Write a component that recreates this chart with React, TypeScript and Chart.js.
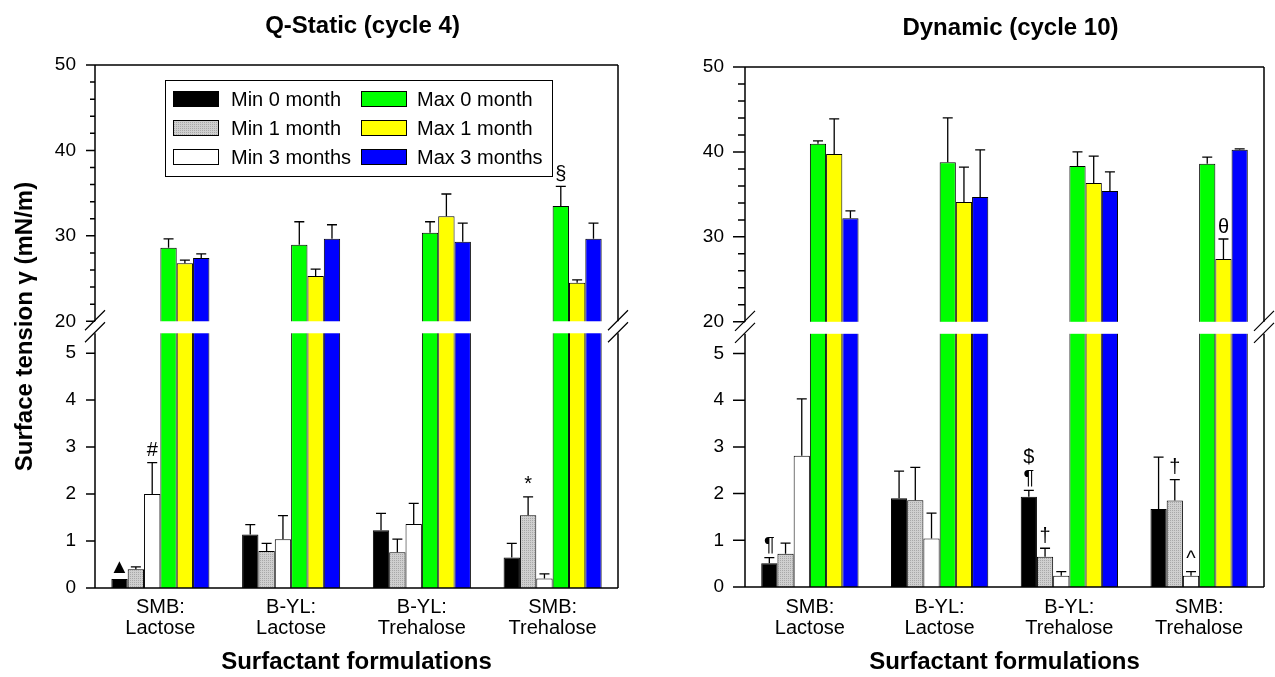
import React, { useEffect, useRef } from 'react';
import { Chart, registerables, LinearScale } from 'chart.js';

Chart.register(...registerables);

// ---------- data ----------
const CATEGORIES = [
  ['SMB:', 'Lactose'],
  ['B-YL:', 'Lactose'],
  ['B-YL:', 'Trehalose'],
  ['SMB:', 'Trehalose'],
];
const SERIES_LABELS = ['Min 0 month', 'Min 1 month', 'Min 3 months', 'Max 0 month', 'Max 1 month', 'Max 3 months'];
const Y_TICKS = [0, 1, 2, 3, 4, 5, 20, 22, 24, 26, 28, 30, 32, 34, 36, 38, 40, 42, 44, 46, 48, 50];
const Y_LABELED = [0, 1, 2, 3, 4, 5, 20, 30, 40, 50];

// Q-Static (cycle 4)
const STATIC_MIN0 = [0.19, 1.14, 1.23, 0.65];
const STATIC_MIN0_ERR = [0, 0.21, 0.36, 0.3];
const STATIC_MIN1 = [0.4, 0.79, 0.76, 1.55];
const STATIC_MIN1_ERR = [0.05, 0.16, 0.28, 0.39];
const STATIC_MIN3 = [2.0, 1.04, 1.36, 0.2];
const STATIC_MIN3_ERR = [0.67, 0.5, 0.44, 0.1];
const STATIC_MAX0 = [28.6, 28.95, 30.35, 33.5];
const STATIC_MAX0_ERR = [1.05, 2.7, 1.3, 2.3];
const STATIC_MAX1 = [26.8, 25.3, 32.3, 24.5];
const STATIC_MAX1_ERR = [0.35, 0.8, 2.6, 0.35];
const STATIC_MAX3 = [27.4, 29.65, 29.3, 29.65];
const STATIC_MAX3_ERR = [0.5, 1.65, 2.2, 1.85];
const STATIC_MARKS: [number, number, string][] = [
  [0, 0, '▲'],
  [2, 0, '#'],
  [1, 3, '*'],
  [3, 3, '§'],
];

// Dynamic (cycle 10)
const DYNAMIC_MIN0 = [0.51, 1.9, 1.93, 1.67];
const DYNAMIC_MIN0_ERR = [0.12, 0.58, 0.14, 1.11];
const DYNAMIC_MIN1 = [0.71, 1.86, 0.65, 1.85];
const DYNAMIC_MIN1_ERR = [0.23, 0.7, 0.18, 0.45];
const DYNAMIC_MIN3 = [2.81, 1.04, 0.24, 0.24];
const DYNAMIC_MIN3_ERR = [1.22, 0.54, 0.09, 0.09];
const DYNAMIC_MAX0 = [40.95, 38.8, 38.35, 38.6];
const DYNAMIC_MAX0_ERR = [0.35, 5.2, 1.65, 0.8];
const DYNAMIC_MAX1 = [39.75, 34.1, 36.35, 27.4];
const DYNAMIC_MAX1_ERR = [4.15, 4.1, 3.15, 2.35];
const DYNAMIC_MAX3 = [32.2, 34.7, 35.4, 40.25];
const DYNAMIC_MAX3_ERR = [0.85, 5.55, 2.25, 0.12];
const DYNAMIC_MARKS: [number, number, string][] = [
  [0, 0, '¶'],
  [0, 2, '$\n¶'],
  [1, 2, '†'],
  [1, 3, '†'],
  [2, 3, '^'],
  [4, 3, 'θ'],
];

// ---------- broken axis scale ----------
const BREAK_LOW = 5.5;
const BREAK_HIGH = 20;
const LOW_FRAC = 0.494;
const HIGH_FRAC = 0.51;
const Y_MAX = 50;
const GAP_PX = 12;

class BrokenLinearScale extends LinearScale {
  static id = 'brokenLinear';
  static defaults = LinearScale.defaults;
  getPixelForValue(value: any) {
    if (value === null || value === undefined || isNaN(value)) return NaN;
    let f: number;
    if (value <= BREAK_LOW) f = (value / BREAK_LOW) * LOW_FRAC;
    else if (value >= BREAK_HIGH) f = HIGH_FRAC + ((value - BREAK_HIGH) / (Y_MAX - BREAK_HIGH)) * (1 - HIGH_FRAC);
    else f = LOW_FRAC + ((value - BREAK_LOW) / (BREAK_HIGH - BREAK_LOW)) * (HIGH_FRAC - LOW_FRAC);
    return this.getPixelForDecimal(f);
  }
  getValueForPixel(pixel: number) {
    const f = this.getDecimalForPixel(pixel);
    if (f <= LOW_FRAC) return (f / LOW_FRAC) * BREAK_LOW;
    if (f >= HIGH_FRAC) return BREAK_HIGH + ((f - HIGH_FRAC) / (1 - HIGH_FRAC)) * (Y_MAX - BREAK_HIGH);
    return BREAK_LOW + ((f - LOW_FRAC) / (HIGH_FRAC - LOW_FRAC)) * (BREAK_HIGH - BREAK_LOW);
  }
}
Chart.register(BrokenLinearScale as any);

const FONT = 'Liberation Sans, Arial, Helvetica, sans-serif';

type Panel = {
  title: string;
  values: number[][];
  errors: number[][];
  marks: [number, number, string][];
  yTitle: boolean;
  padding: { top: number; right: number; bottom: number; left: number };
  yWidth: number;
  xHeight: number;
  majorTick: number;
  minorTick: number;
  tickPad: number;
  catPad: number;
  legend: boolean;
};

const STATIC_PANEL: Panel = {
  title: 'Q-Static (cycle 4)',
  values: [STATIC_MIN0, STATIC_MIN1, STATIC_MIN3, STATIC_MAX0, STATIC_MAX1, STATIC_MAX3],
  errors: [STATIC_MIN0_ERR, STATIC_MIN1_ERR, STATIC_MIN3_ERR, STATIC_MAX0_ERR, STATIC_MAX1_ERR, STATIC_MAX3_ERR],
  marks: STATIC_MARKS,
  yTitle: true,
  padding: { top: 65, right: 22, bottom: 0, left: 0 },
  yWidth: 95,
  xHeight: 89,
  majorTick: 9,
  minorTick: 5,
  tickPad: 10,
  catPad: 9,
  legend: true,
};

const DYNAMIC_PANEL: Panel = {
  title: 'Dynamic (cycle 10)',
  values: [DYNAMIC_MIN0, DYNAMIC_MIN1, DYNAMIC_MIN3, DYNAMIC_MAX0, DYNAMIC_MAX1, DYNAMIC_MAX3],
  errors: [DYNAMIC_MIN0_ERR, DYNAMIC_MIN1_ERR, DYNAMIC_MIN3_ERR, DYNAMIC_MAX0_ERR, DYNAMIC_MAX1_ERR, DYNAMIC_MAX3_ERR],
  marks: DYNAMIC_MARKS,
  yTitle: false,
  padding: { top: 67, right: 11, bottom: 0, left: 0 },
  yWidth: 105,
  xHeight: 90,
  majorTick: 12,
  minorTick: 7,
  tickPad: 9,
  catPad: 10,
  legend: false,
};

function makeGrayPattern(): CanvasPattern | string {
  const pc = document.createElement('canvas');
  pc.width = 2;
  pc.height = 2;
  const c = pc.getContext('2d');
  if (!c) return '#c2c2c2';
  c.fillStyle = '#cfcfcf';
  c.fillRect(0, 0, 2, 2);
  c.fillStyle = '#a8a8a8';
  c.fillRect(0, 0, 1, 1);
  const p = c.createPattern(pc, 'repeat');
  return p || '#c2c2c2';
}

function decorPlugin(panel: Panel) {
  return {
    id: 'decor',
    afterDatasetsDraw(chart: any) {
      const { ctx, chartArea: a } = chart;
      const ys = chart.scales.y;
      const gTop = ys.getPixelForValue(BREAK_HIGH);
      const gBot = gTop + GAP_PX;
      ctx.save();
      ctx.fillStyle = '#ffffff';
      ctx.fillRect(a.left, gTop, a.right - a.left, gBot - gTop);

      // error bars (upper side only)
      ctx.strokeStyle = '#000';
      ctx.lineWidth = 1.3;
      panel.errors.forEach((errs, si) => {
        const meta = chart.getDatasetMeta(si);
        meta.data.forEach((el: any, ci: number) => {
          const err = errs[ci];
          if (!err) return;
          const v = panel.values[si][ci];
          const yTop = ys.getPixelForValue(v + err);
          ctx.beginPath();
          ctx.moveTo(el.x, el.y);
          ctx.lineTo(el.x, yTop);
          ctx.moveTo(el.x - 5, yTop);
          ctx.lineTo(el.x + 5, yTop);
          ctx.stroke();
        });
      });

      // significance marks
      ctx.fillStyle = '#000';
      ctx.font = `20px ${FONT}`;
      ctx.textAlign = 'center';
      ctx.textBaseline = 'bottom';
      panel.marks.forEach(([si, ci, text]) => {
        const el = chart.getDatasetMeta(si).data[ci];
        const v = panel.values[si][ci];
        const err = panel.errors[si][ci] || 0;
        const top = ys.getPixelForValue(v + err);
        const lines = text.split('\n').reverse();
        lines.forEach((ln, k) => ctx.fillText(ln, el.x, top - 2 - k * 21));
      });
      ctx.restore();
    },
    afterDraw(chart: any) {
      const { ctx, chartArea: a } = chart;
      const ys = chart.scales.y;
      const gTop = ys.getPixelForValue(BREAK_HIGH);
      const gBot = gTop + GAP_PX;
      ctx.save();
      ctx.strokeStyle = '#000';
      ctx.lineWidth = 1.5;
      ctx.beginPath();
      // left axis and right frame, broken
      [a.left, a.right].forEach((x: number) => {
        ctx.moveTo(x, a.top);
        ctx.lineTo(x, gTop);
        ctx.moveTo(x, gBot);
        ctx.lineTo(x, a.bottom);
      });
      // top frame and bottom axis
      ctx.moveTo(a.left, a.top);
      ctx.lineTo(a.right, a.top);
      ctx.moveTo(a.left, a.bottom);
      ctx.lineTo(a.right, a.bottom);
      // y tick marks
      Y_TICKS.forEach((v) => {
        const py = ys.getPixelForValue(v);
        const len = Y_LABELED.includes(v) ? panel.majorTick : panel.minorTick;
        ctx.moveTo(a.left - len, py);
        ctx.lineTo(a.left, py);
      });
      ctx.stroke();

      // break marks
      ctx.lineWidth = 1.2;
      ctx.beginPath();
      [a.left, a.right].forEach((x: number) => {
        [gTop - 1, gBot - 1].forEach((yc: number) => {
          ctx.moveTo(x - 10, yc + 10);
          ctx.lineTo(x + 10, yc - 10);
        });
      });
      ctx.stroke();

      // title
      ctx.fillStyle = '#000';
      ctx.font = `bold 24px ${FONT}`;
      ctx.textAlign = 'center';
      ctx.textBaseline = 'middle';
      ctx.fillText(panel.title, (a.left + a.right) / 2 + 6, a.top - 39);

      // legend
      if (panel.legend) {
        const bx = a.left + 70;
        const by = a.top + 15;
        ctx.lineWidth = 1;
        ctx.strokeRect(bx + 0.5, by + 0.5, 387, 96);
        const ds = chart.data.datasets;
        ctx.font = `20px ${FONT}`;
        ctx.textAlign = 'left';
        ctx.textBaseline = 'middle';
        for (let i = 0; i < ds.length; i++) {
          const col = i < 3 ? 0 : 1;
          const row = i % 3;
          const yc = a.top + 34 + row * 29;
          const sx = a.left + (col === 0 ? 78 : 266);
          const tx = a.left + (col === 0 ? 136 : 322);
          ctx.fillStyle = ds[i].backgroundColor;
          ctx.fillRect(sx, yc - 8, 46, 16);
          ctx.strokeStyle = '#000';
          ctx.strokeRect(sx + 0.5, yc - 8 + 0.5, 45, 15);
          ctx.fillStyle = '#000';
          ctx.fillText(ds[i].label, tx, yc + 1);
        }
      }
      ctx.restore();
    },
  };
}

function buildChart(canvas: HTMLCanvasElement, panel: Panel, gray: any) {
  const colors = ['#000000', gray, '#ffffff', '#00ff00', '#ffff00', '#0000ff'];
  return new Chart(canvas, {
    type: 'bar',
    data: {
      labels: CATEGORIES,
      datasets: SERIES_LABELS.map((label, i) => ({
        label,
        data: panel.values[i],
        backgroundColor: colors[i],
        borderColor: '#000000',
        borderWidth: 1,
        barPercentage: 1,
        categoryPercentage: 0.75,
      })),
    },
    options: {
      responsive: false,
      animation: false,
      devicePixelRatio: 1,
      events: [],
      layout: { padding: panel.padding },
      plugins: {
        legend: { display: false },
        tooltip: { enabled: false },
        title: { display: false },
      },
      scales: {
        x: {
          grid: { display: false, drawTicks: false },
          border: { display: false },
          ticks: {
            autoSkip: false,
            maxRotation: 0,
            minRotation: 0,
            padding: panel.catPad,
            color: '#000',
            font: { family: FONT, size: 20, lineHeight: 1.05 },
          },
          title: {
            display: true,
            text: 'Surfactant formulations',
            color: '#000',
            font: { family: FONT, size: 24, weight: 'bold' },
            padding: { top: 0, bottom: 0 },
          },
          afterFit: (s: any) => {
            s.height = panel.xHeight;
          },
        },
        y: {
          type: 'brokenLinear' as any,
          min: 0,
          max: Y_MAX,
          grid: { display: false, drawTicks: true, tickLength: panel.majorTick },
          border: { display: false },
          afterBuildTicks: (s: any) => {
            s.ticks = Y_TICKS.map((v) => ({ value: v }));
          },
          ticks: {
            autoSkip: false,
            padding: panel.tickPad,
            color: '#000',
            font: { family: FONT, size: 19 },
            callback: (v: any) => (Y_LABELED.includes(Number(v)) ? String(v) : ''),
          },
          title: {
            display: panel.yTitle,
            text: 'Surface tension γ (mN/m)',
            color: '#000',
            font: { family: FONT, size: 24, weight: 'bold' },
            padding: { top: 11, bottom: 0 },
          },
          afterFit: (s: any) => {
            s.width = panel.yWidth;
          },
        } as any,
      },
    } as any,
    plugins: [decorPlugin(panel) as any],
  });
}

export default function App() {
  const leftRef = useRef<HTMLCanvasElement>(null);
  const rightRef = useRef<HTMLCanvasElement>(null);
  useEffect(() => {
    const gray = makeGrayPattern();
    const c1 = buildChart(leftRef.current as HTMLCanvasElement, STATIC_PANEL, gray);
    const c2 = buildChart(rightRef.current as HTMLCanvasElement, DYNAMIC_PANEL, gray);
    return () => {
      c1.destroy();
      c2.destroy();
    };
  }, []);
  return (
    <div style={{ position: 'absolute', left: 0, top: 0, width: 1275, height: 677, background: '#fff', overflow: 'hidden' }}>
      <canvas ref={leftRef} width={640} height={677} style={{ position: 'absolute', left: 0, top: 0 }} />
      <canvas ref={rightRef} width={635} height={677} style={{ position: 'absolute', left: 640, top: 0 }} />
    </div>
  );
}
